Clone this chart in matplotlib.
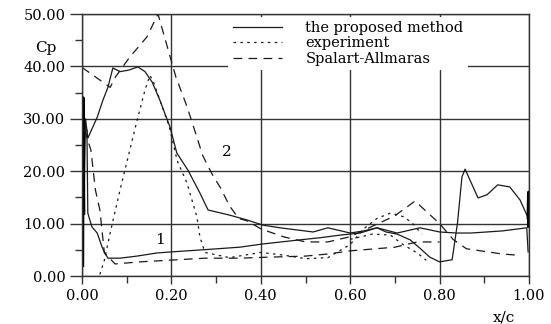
import numpy as np
import matplotlib.pyplot as plt

# proposed method, upper branch (curve 2)
prop_up_x = [0.004, 0.008, 0.013, 0.034, 0.047, 0.058, 0.069, 0.085, 0.105, 0.125, 0.141,
             0.157, 0.174, 0.197, 0.212, 0.237, 0.264, 0.282, 0.331, 0.369, 0.405, 0.443, 0.48, 0.517,
             0.55, 0.6, 0.63, 0.66, 0.705, 0.756, 0.8, 0.839, 0.87, 0.94, 0.995, 0.998]
prop_up_y = [12.0, 30.0, 26.3, 30.3, 33.6, 36.0, 39.7, 39.0, 39.3, 39.9, 39.0,
             37.0, 33.6, 28.4, 23.5, 20.2, 15.8, 12.6, 11.6, 10.7, 9.7, 9.2, 8.8, 8.4,
             9.2, 8.2, 8.6, 9.2, 8.2, 9.2, 8.4, 8.2, 8.2, 8.6, 9.2, 4.6]

# leading / trailing edge spikes of the proposed method
le_x = [0.0015, 0.0025, 0.004]
le_y = [2.0, 34.0, 12.0]
te_x = [0.998, 0.999, 0.999]
te_y = [11.1, 16.0, 9.5]

# proposed method, lower branch (curve 1)
prop_lo_x = [0.011, 0.013, 0.022, 0.034, 0.045, 0.051, 0.058, 0.085, 0.123, 0.168, 0.2, 0.27, 0.353,
             0.403, 0.488, 0.532, 0.577, 0.622, 0.66, 0.68, 0.705, 0.734, 0.756, 0.778, 0.8, 0.828,
             0.84, 0.85, 0.857, 0.868, 0.886, 0.906, 0.93, 0.957, 0.98, 0.998]
prop_lo_y = [27.9, 12.0, 9.4, 8.2, 5.5, 4.4, 3.4, 3.4, 3.8, 4.4, 4.6, 5.0, 5.5,
             6.1, 6.9, 7.3, 7.8, 8.2, 9.2, 8.4, 8.0, 6.9, 5.3, 3.6, 2.7, 3.1,
             10.1, 18.9, 20.4, 18.3, 14.9, 15.5, 17.4, 17.0, 14.5, 11.1]

# experiment
exp_up_x = [0.04, 0.05, 0.063, 0.085, 0.114, 0.125, 0.141, 0.152, 0.16, 0.19, 0.197, 0.213, 0.235,
            0.257, 0.264, 0.275, 0.33, 0.4, 0.45, 0.5, 0.55, 0.6, 0.63, 0.66, 0.69, 0.72, 0.74, 0.76]
exp_up_y = [0.3, 3.0, 8.2, 16.4, 26.5, 30.3, 35.5, 38.3, 37.0, 29.8, 27.9, 22.0, 17.7,
            11.3, 7.4, 4.5, 3.5, 4.5, 4.0, 3.3, 3.5, 6.0, 9.0, 11.0, 12.0, 11.3, 10.0, 8.0]
exp_lo_x = [0.6, 0.65, 0.69, 0.72, 0.75, 0.77]
exp_lo_y = [7.0, 8.0, 7.8, 5.9, 4.4, 3.0]

# Spalart-Allmaras
sa_up_x = [0.0, 0.03, 0.063, 0.075, 0.107, 0.145, 0.17, 0.18, 0.21, 0.235, 0.257, 0.27, 0.29, 0.31,
           0.33, 0.35, 0.37, 0.4, 0.45, 0.5, 0.55, 0.6, 0.65, 0.7, 0.745, 0.8, 0.83, 0.86, 0.94, 0.97]
sa_up_y = [39.8, 38.0, 36.0, 38.0, 41.8, 45.6, 50.0, 47.0, 38.0, 32.3, 26.5, 23.0, 19.6, 16.8,
           13.4, 11.0, 10.5, 9.0, 7.5, 6.5, 6.5, 7.5, 9.5, 11.5, 14.3, 10.0, 7.0, 5.2, 4.2, 4.0]
sa_lo_x = [0.005, 0.02, 0.03, 0.04, 0.05, 0.074, 0.13, 0.275, 0.35, 0.42, 0.5, 0.55, 0.6, 0.7, 0.75, 0.8]
sa_lo_y = [28.0, 24.0, 16.4, 12.6, 4.4, 2.3, 2.7, 3.4, 3.4, 3.6, 3.8, 4.2, 4.8, 5.5, 6.5, 6.5]

xticks = [0.0, 0.2, 0.4, 0.6, 0.8, 1.0]
yticks = [0, 10, 20, 30, 40, 50]

plt.rcParams['font.family'] = 'DejaVu Serif'
fig = plt.figure(figsize=(5.51, 3.24), dpi=100)
ax = fig.add_axes([82/551, 48/324, 447/551, 262/324])

lc = '#1a1a1a'
ax.plot(prop_up_x, prop_up_y, color=lc, lw=0.9, label='the proposed method')
ax.plot(prop_lo_x, prop_lo_y, color=lc, lw=0.9)
ax.plot(le_x, le_y, color='black', lw=2.2)
ax.plot(te_x, te_y, color='black', lw=2.2)
ax.plot(exp_up_x, exp_up_y, color=lc, lw=0.9, dashes=(2, 3.5), label='experiment')
ax.plot(exp_lo_x, exp_lo_y, color=lc, lw=0.9, dashes=(2, 3.5))
ax.plot(sa_up_x, sa_up_y, color=lc, lw=0.9, dashes=(7, 5), label='Spalart-Allmaras')
ax.plot(sa_lo_x, sa_lo_y, color=lc, lw=0.9, dashes=(7, 5))

ax.set_xlim(0, 1)
ax.set_ylim(0, 50)
ax.set_xticks(xticks)
ax.set_xticklabels(['%.2f' % v for v in xticks])
ax.set_yticks(yticks)
ax.set_yticklabels(['%.2f' % v for v in yticks])
ax.set_xticks([0.1, 0.3, 0.5, 0.7, 0.9], minor=True)
ax.set_yticks([5, 15, 25, 35, 45], minor=True)
ax.tick_params(axis='both', which='major', length=9, width=1, color='#333333', labelsize=10.5, pad=3)
ax.tick_params(axis='both', which='minor', length=5, width=1, color='#333333')
ax.tick_params(axis='x', which='major', length=6)
ax.grid(True, which='major', color='#333333', lw=1)
for s in ax.spines.values():
    s.set_color('#333333')
    s.set_linewidth(1)

ax.text(-0.08, 43.5, 'Cp', fontsize=11, ha='center', va='center')
ax.text(0.945, -0.16, 'x/c', transform=ax.transAxes, fontsize=11, ha='center', va='center')
ax.text(0.174, 6.9, '1', fontsize=11, ha='center', va='center')
ax.text(0.324, 23.7, '2', fontsize=11, ha='center', va='center')

leg = ax.legend(loc='upper left', bbox_to_anchor=(0.327, 0.99), fontsize=10.5, frameon=True,
                facecolor='white', edgecolor='none', framealpha=1, fancybox=False,
                handlelength=3.4, handletextpad=1.6, labelspacing=0.1, borderpad=0.3,
                borderaxespad=0)
for h in leg.get_lines():
    h.set_linewidth(0.9)

fig.savefig('out.png', dpi=100)
